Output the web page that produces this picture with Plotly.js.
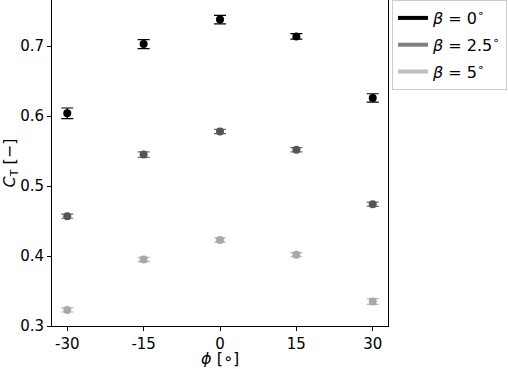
<!DOCTYPE html>
<html><head><meta charset="utf-8">
<script src="https://cdn.plot.ly/plotly-3.0.1.min.js"></script>
<style>html,body{margin:0;padding:0;background:#fff}#c{width:508px;height:369px}</style>
</head><body><div id="c"></div>
<script>
const phi = [-30, -15, 0, 15, 30];
const ct_b0 = [0.604, 0.703, 0.738, 0.714, 0.626];
const err_b0 = [0.0076, 0.0064, 0.006, 0.004, 0.006];
const ct_b25 = [0.457, 0.545, 0.578, 0.552, 0.474];
const err_b25 = [0.003, 0.004, 0.003, 0.003, 0.003];
const ct_b5 = [0.323, 0.395, 0.423, 0.402, 0.335];
const err_b5 = [0.003, 0.003, 0.003, 0.003, 0.004];
const names = ['<i>β</i> = 0<sup>∘</sup>', '<i>β</i> = 2.5<sup>∘</sup>', '<i>β</i> = 5<sup>∘</sup>'];
const tickLabels = ['-30', '-15', '0', '15', '30'];
const xTitle = '<i>ϕ</i> [∘]';
const yTitle = '<i>C</i><sub>T</sub> [−]';

const series = [
  {y: ct_b0, e: err_b0, mc: '#000000', ec: '#000000', lc: '#000000'},
  {y: ct_b25, e: err_b25, mc: '#555555', ec: '#6e6e6e', lc: '#808080'},
  {y: ct_b5, e: err_b5, mc: '#a8a8a8', ec: '#b5b5b5', lc: '#bfbfbf'}
];
const traces = [];
series.forEach((s, i) => {
  traces.push({
    x: phi, y: s.y, type: 'scatter', mode: 'markers', showlegend: false,
    marker: {color: s.mc, size: 8, line: {width: 0}},
    error_y: {type: 'data', array: s.e, visible: true, color: s.ec, thickness: 1.2, width: 6}
  });
});
series.forEach((s, i) => {
  traces.push({
    x: [null], y: [null], type: 'scatter', mode: 'lines', name: names[i],
    legendgroup: 'g' + i,
    line: {color: s.lc, width: 4}
  });
});
const font = {family: 'DejaVu Sans', size: 15, color: '#000'};
const tfont = {family: 'DejaVu Sans', size: 16, color: '#000'};
Plotly.newPlot('c', traces, {
  width: 508, height: 369,
  margin: {l: 52, r: 120, t: 0, b: 43},
  paper_bgcolor: '#fff', plot_bgcolor: '#fff',
  font: font,
  xaxis: {
    range: [-33, 33], tickvals: phi, ticktext: tickLabels,
    showgrid: false, zeroline: false, showline: true, mirror: true,
    linecolor: '#000', linewidth: 1, ticks: 'outside', ticklen: 4, tickcolor: '#000',
    tickfont: font
  },
  yaxis: {
    range: [0.3, 0.766], tickvals: [0.3, 0.4, 0.5, 0.6, 0.7],
    ticktext: ['0.3', '0.4', '0.5', '0.6', '0.7'],
    showgrid: false, zeroline: false, showline: true, mirror: true,
    linecolor: '#000', linewidth: 1, ticks: 'outside', ticklen: 4, tickcolor: '#000',
    tickfont: font,
    title: {text: yTitle, font: tfont, standoff: 6}
  },
  annotations: [{
    text: xTitle, xref: 'paper', yref: 'paper', x: 0.5, y: 0, yshift: -43,
    xanchor: 'center', yanchor: 'bottom', showarrow: false, font: tfont,
    borderpad: 0
  }],
  legend: {
    x: 1.012, y: 1, xanchor: 'left', yanchor: 'top',
    bordercolor: '#cccccc', borderwidth: 1, bgcolor: '#fff',
    font: {family: 'DejaVu Sans', size: 16, color: '#000'},
    tracegroupgap: 3
  }
}, {displayModeBar: false, staticPlot: true});
</script></body></html>
